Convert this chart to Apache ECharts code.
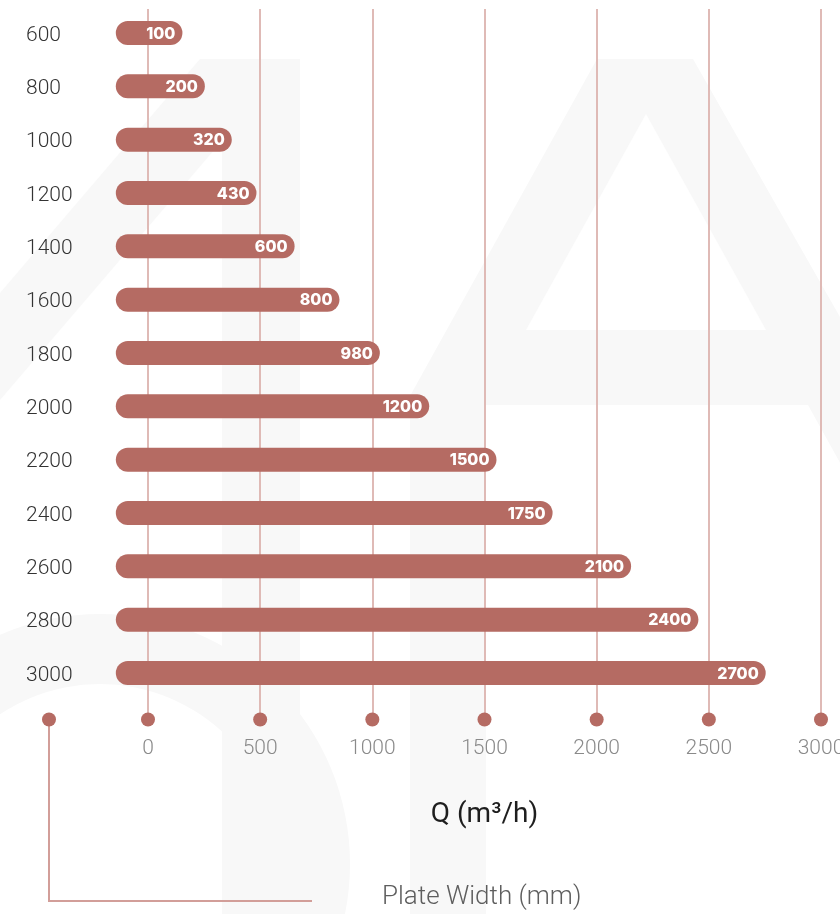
<!DOCTYPE html>
<html>
<head>
<meta charset="utf-8">
<style>
  html, body { margin: 0; padding: 0; background: #ffffff; }
  #chart { width: 840px; height: 914px; }
</style>
<script src="https://cdn.jsdelivr.net/npm/echarts@6/dist/echarts.min.js"></script>
</head>
<body>
<div id="chart"></div>
<script>
// ---- data ----
var plateWidths = ['600', '800', '1000', '1200', '1400', '1600', '1800', '2000', '2200', '2400', '2600', '2800', '3000'];
var flowValues = [100, 200, 320, 430, 600, 800, 980, 1200, 1500, 1750, 2100, 2400, 2700];
var xTicks = [0, 500, 1000, 1500, 2000, 2500, 3000];
var xAxisName = 'Q (m\u00B3/h)';
var yAxisName = 'Plate Width (mm)';

// ---- styles ----
var BAR_COLOR = '#b56b63';
var GRID_COLOR = '#dfbab6';
var BRACKET_COLOR = '#d29e99';
var WM = '#f8f8f8';
var BAR_BASE = -90;      // axis value where the rounded bar begins (visual)
var BAR_H = 24;

var chart = echarts.init(document.getElementById('chart'), null, { renderer: 'canvas' });

var option = {
  backgroundColor: '#ffffff',
  animation: false,
  textStyle: { fontFamily: 'Roboto' },
  grid: [
    { left: 148, right: 19, top: 6.33, height: 693.34, containLabel: false, outerBoundsMode: 'none' },
    { left: 148, right: 19, top: 9, bottom: 194.5, containLabel: false, outerBoundsMode: 'none' }
  ],
  xAxis: [
    { gridIndex: 0, type: 'value', min: 0, max: 3000, show: false },
    {
      gridIndex: 1, type: 'value', min: 0, max: 3000, interval: 500,
      axisLine: { show: false }, axisTick: { show: false },
      splitLine: { show: true, lineStyle: { color: GRID_COLOR, width: 2 } },
      axisLabel: {
        color: '#8a8a8a', fontSize: 21, fontWeight: 300, fontFamily: 'Roboto', margin: 19,
        hideOverlap: false, showMaxLabel: true, showMinLabel: true,
        formatter: function (v) { return String(v); }
      },
      name: xAxisName, nameLocation: 'middle', nameGap: 81,
      nameTextStyle: { color: '#1e1e1e', fontSize: 28, fontFamily: 'Roboto', fontWeight: 400 }
    }
  ],
  yAxis: [
    {
      gridIndex: 0, type: 'category', data: plateWidths, inverse: true,
      axisLine: { show: false }, axisTick: { show: false }, splitLine: { show: false },
      axisLabel: {
        align: 'left', margin: 122, color: '#333333', fontSize: 21, fontWeight: 300, fontFamily: 'Roboto',
        formatter: function (v) { return '{a|' + v + '}'; },
        rich: { a: { color: '#333333', fontSize: 21, fontWeight: 300, fontFamily: 'Roboto', padding: [5, 0, 0, 0] } }
      }
    },
    { gridIndex: 1, type: 'value', min: 0, max: 1, show: false }
  ],
  series: [
    {
      type: 'custom',
      xAxisIndex: 0, yAxisIndex: 0,
      clip: false,
      encode: { x: 1, y: 0 },
      data: flowValues.map(function (v, i) { return [i, v]; }),
      renderItem: function (params, api) {
        var idx = api.value(0);
        var v = api.value(1);
        var s = api.coord([BAR_BASE, idx]);
        var e = api.coord([v, idx]);
        var r = BAR_H / 2;
        var x0 = s[0] - r;
        var x1 = e[0] + r;
        return {
          type: 'group',
          children: [
            { type: 'rect', shape: { x: x0, y: e[1] - r, width: x1 - x0, height: BAR_H, r: r }, style: { fill: BAR_COLOR } },
            { type: 'text', x: x1 - 7, y: e[1] + 1, style: { text: String(v), fill: '#ffffff', font: '800 16px Inter', align: 'right', verticalAlign: 'middle' } }
          ]
        };
      },
      z: 5
    },
    {
      type: 'scatter',
      xAxisIndex: 1, yAxisIndex: 1,
      clip: false,
      symbol: 'circle', symbolSize: 14,
      itemStyle: { color: BAR_COLOR, opacity: 1 },
      data: xTicks.map(function (t) { return [t, 0]; }),
      z: 6
    }
  ],
  graphic: [
    // faint background watermark
    { type: 'polygon', z: -10, silent: true, shape: { points: [[597,59],[693,59],[1180,914],[1090,914],[808,405],[486,405],[486,914],[410,914],[410,396]] }, style: { fill: WM } },
    { type: 'polygon', z: -9, silent: true, shape: { points: [[646,114],[766,330],[526,330]] }, style: { fill: '#ffffff' } },
    { type: 'polygon', z: -10, silent: true, shape: { points: [[200,59],[292,59],[0,400],[0,293]] }, style: { fill: WM } },
    { type: 'rect', z: -10, silent: true, shape: { x: 222, y: 59, width: 78, height: 855 }, style: { fill: WM } },
    { type: 'ring', z: -10, silent: true, shape: { cx: 100, cy: 864, r: 250, r0: 180 }, style: { fill: WM } },
    // y-axis bracket
    { type: 'polyline', z: 10, silent: true, shape: { points: [[49,719.5],[49,901],[312,901]] }, style: { stroke: BRACKET_COLOR, lineWidth: 2, fill: null } },
    { type: 'circle', z: 11, silent: true, shape: { cx: 49, cy: 719.5, r: 7 }, style: { fill: BAR_COLOR } },
    { type: 'text', z: 11, silent: true, x: 382, y: 897, style: { text: yAxisName, fill: '#5e5e5e', font: '300 26px Roboto', align: 'left', verticalAlign: 'middle' } }
  ]
};

chart.setOption(option);
</script>
</body>
</html>
